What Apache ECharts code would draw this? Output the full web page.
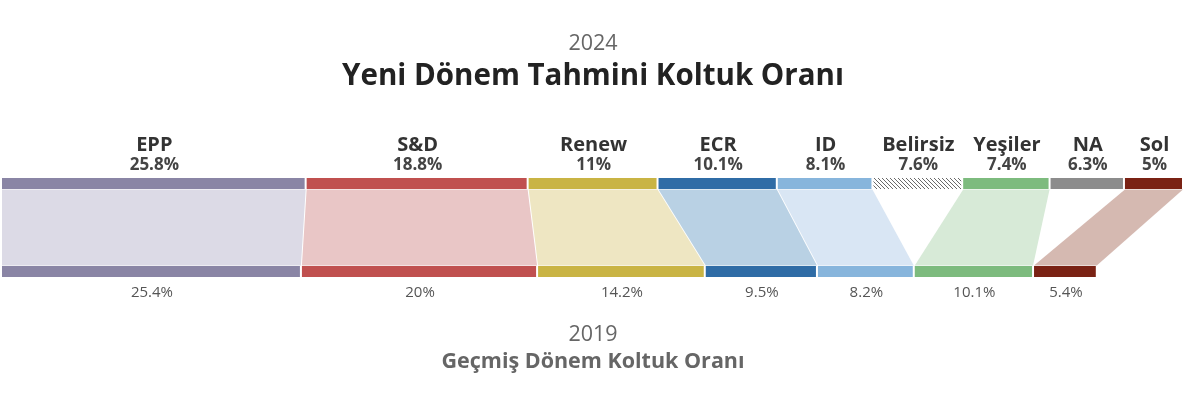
<!DOCTYPE html>
<html>
<head>
<meta charset="utf-8">
<script src="https://cdn.jsdelivr.net/npm/echarts@6/dist/echarts.min.js"></script>
<style>
html,body{margin:0;padding:0;background:#fff;}
#chart{width:1186px;height:398px;}
</style>
</head>
<body>
<div id="chart"></div>
<script>
// ---- DATA ----
const parties2024 = ['EPP', 'S&D', 'Renew', 'ECR', 'ID', 'Belirsiz', 'Yeşiler', 'NA', 'Sol'];
const values2024 = [25.8, 18.8, 11, 10.1, 8.1, 7.6, 7.4, 6.3, 5];
const parties2019 = ['EPP', 'S&D', 'Renew', 'ECR', 'ID', 'Yeşiler', 'Sol'];
const values2019 = [25.4, 20, 14.2, 9.5, 8.2, 10.1, 5.4];
const titleTop = '2024';
const titleMain = 'Yeni Dönem Tahmini Koltuk Oranı';
const titleBottomYear = '2019';
const titleBottom = 'Geçmiş Dönem Koltuk Oranı';

// ---- STYLES ----
const FONT = '"Open Sans", "Noto Sans", sans-serif';
const barColors = {
  'EPP': '#8a85a5', 'S&D': '#c0504f', 'Renew': '#c9b444', 'ECR': '#2f6ca6',
  'ID': '#87b5dc', 'Belirsiz': null, 'Yeşiler': '#7dbb7e', 'NA': '#8c8c8c', 'Sol': '#7a2214'
};
const ribbonColors = {
  'EPP': '#dcdae6', 'S&D': '#e9c6c6', 'Renew': '#eee6c2', 'ECR': '#b9d1e4',
  'ID': '#d9e6f4', 'Yeşiler': '#d7ead7', 'Sol': '#d5b9b1'
};

function cumulate(vals) {
  const out = []; let s = 0;
  vals.forEach(v => { out.push([s, s + v]); s += v; });
  return out;
}
const cum24 = cumulate(values2024);
const cum19 = cumulate(values2019);
const total24 = values2024.reduce((a, b) => a + b, 0);

const topData = parties2024.map((p, i) => [cum24[i][0], cum24[i][1], i]);
const botData = parties2019.map((p, i) => [cum19[i][0], cum19[i][1], i]);
const ribbonData = [];
parties2019.forEach((p, j) => {
  const i = parties2024.indexOf(p);
  if (i >= 0) ribbonData.push([cum24[i][0], cum24[i][1], cum19[j][0], cum19[j][1], j]);
});

// hatch pattern
const pc = document.createElement('canvas');
pc.width = 4; pc.height = 4;
const ctx = pc.getContext('2d');
ctx.fillStyle = '#ffffff'; ctx.fillRect(0, 0, 4, 4);
ctx.strokeStyle = '#6a6a6a'; ctx.lineWidth = 1;
ctx.beginPath(); ctx.moveTo(0, 0); ctx.lineTo(4, 4); ctx.moveTo(-1, 3); ctx.lineTo(1, 5); ctx.moveTo(3, -1); ctx.lineTo(5, 1); ctx.stroke();
const hatch = { image: pc, repeat: 'repeat' };

const BAR_H = 11, GAP = 77, TOTAL_H = BAR_H * 2 + GAP;

const chart = echarts.init(document.getElementById('chart'), null, { renderer: 'canvas' });
chart.setOption({
  animation: false,
  backgroundColor: '#fff',
  title: [
    { text: titleTop, left: 'center', top: 33, padding: 0, textStyle: { fontFamily: FONT, fontSize: 21.5, fontWeight: 'normal', color: '#666' } },
    { text: titleMain, left: 'center', top: 62, padding: 0, textStyle: { fontFamily: FONT, fontSize: 29.5, fontWeight: 'bold', color: '#222' } },
    { text: titleBottomYear, left: 'center', top: 324, padding: 0, textStyle: { fontFamily: FONT, fontSize: 21.5, fontWeight: 'normal', color: '#666' } },
    { text: titleBottom, left: 'center', top: 351, padding: 0, textStyle: { fontFamily: FONT, fontSize: 21.5, fontWeight: 'bold', color: '#666' } }
  ],
  grid: { left: 2, right: 2, top: 178, height: TOTAL_H, containLabel: false },
  xAxis: { type: 'value', min: 0, max: total24, show: false },
  yAxis: { type: 'value', min: 0, max: TOTAL_H, inverse: true, show: false },
  series: [
    {
      type: 'custom', clip: false, data: ribbonData,
      renderItem: function (params, api) {
        const y0 = BAR_H + 0.5, y1 = BAR_H + GAP - 0.5;
        const a = api.coord([api.value(0), y0]);
        const b = api.coord([api.value(1), y0]);
        const c = api.coord([api.value(3), y1]);
        const d = api.coord([api.value(2), y1]);
        const name = parties2019[api.value(4)];
        return {
          type: 'polygon',
          shape: { points: [[a[0], a[1]], [b[0] - 1, b[1]], [c[0] - 1, c[1]], [d[0], d[1]]] },
          style: { fill: ribbonColors[name] }
        };
      }
    },
    {
      type: 'custom', clip: false, data: topData,
      renderItem: function (params, api) {
        const i = api.value(2);
        const name = parties2024[i];
        const s = api.coord([api.value(0), 0]);
        const e = api.coord([api.value(1), BAR_H]);
        const cx = (s[0] + e[0]) / 2;
        return {
          type: 'group',
          children: [
            { type: 'rect', shape: { x: s[0], y: s[1], width: e[0] - s[0] - 2, height: e[1] - s[1] },
              style: { fill: barColors[name] || hatch } },
            { type: 'text', style: { text: name, x: cx, y: s[1] - 32.5, align: 'center', verticalAlign: 'middle',
              fontFamily: FONT, fontSize: 20, fontWeight: 'bold', fill: '#333' } },
            { type: 'text', style: { text: values2024[i] + '%', x: cx, y: s[1] - 13, align: 'center', verticalAlign: 'middle',
              fontFamily: FONT, fontSize: 17, fontWeight: 'bold', fill: '#444' } }
          ]
        };
      }
    },
    {
      type: 'custom', clip: false, data: botData,
      renderItem: function (params, api) {
        const i = api.value(2);
        const name = parties2019[i];
        const s = api.coord([api.value(0), BAR_H + GAP]);
        const e = api.coord([api.value(1), TOTAL_H]);
        const cx = (s[0] + e[0]) / 2;
        return {
          type: 'group',
          children: [
            { type: 'rect', shape: { x: s[0], y: s[1], width: e[0] - s[0] - 2, height: e[1] - s[1] },
              style: { fill: barColors[name] } },
            { type: 'text', style: { text: values2019[i] + '%', x: cx, y: e[1] + 16, align: 'center', verticalAlign: 'middle',
              fontFamily: FONT, fontSize: 15, fontWeight: 'normal', fill: '#555' } }
          ]
        };
      }
    }
  ]
});
</script>
</body>
</html>
